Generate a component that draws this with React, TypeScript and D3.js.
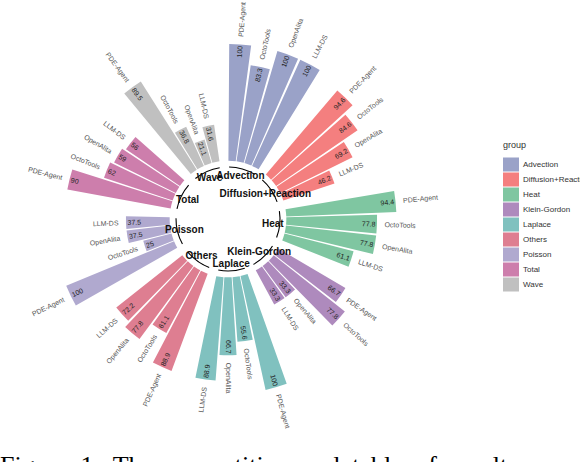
import React from 'react';
import * as d3 from 'd3';

// groups and methods, in clockwise order
const groups = ['Advection', 'Diffusion+Reaction', 'Heat', 'Klein-Gordon', 'Laplace', 'Others', 'Poisson', 'Total', 'Wave'];
const methods = ['PDE-Agent', 'OctoTools', 'OpenAlita', 'LLM-DS'];

// success rate (%) per group, one array per method
const pdeAgent = [100, 94.6, 94.4, 66.7, 100, 88.9, 100, 90, 89.5];
const octoTools = [83.3, 84.6, 77.8, 77.8, 55.6, 61.1, 25, 62, 36.8];
const openAlita = [100, 69.2, 77.8, 33.3, 66.7, 77.8, 37.5, 59, 21.1];
const llmDs = [100, 46.2, 61.1, 33.3, 88.9, 72.2, 37.5, 56, 31.6];

const groupColors = ['#9aa2c8', '#f47f7f', '#7fc6a1', '#ae8abd', '#80c1bf', '#de7e91', '#b0a9cf', '#cd7eac', '#c0c0c0'];

const W = 580;
const H = 462;
const cx = 228;
const cy = 219;
const font = '"Liberation Sans", Arial, sans-serif';

const emptyBars = 1;
const slotsPerGroup = methods.length + emptyBars;
const nSlots = groups.length * slotsPerGroup;

interface Bar {
  group: string;
  method: string;
  value: number;
  id: number;
  color: string;
}

const series = [pdeAgent, octoTools, openAlita, llmDs];
const bars: Bar[] = groups.flatMap((g, gi) =>
  methods.map((m, mi) => ({
    group: g,
    method: m,
    value: series[mi][gi],
    id: gi * slotsPerGroup + mi,
    color: groupColors[gi],
  }))
);

// scales
const angle = d3.scaleLinear().domain([0, nSlots]).range([0, 2 * Math.PI]);
const radius = d3.scaleLinear().domain([-50, 100]).range([0, 175]);

const barArc = d3.arc<Bar>()
  .innerRadius(radius(0))
  .outerRadius(d => radius(d.value))
  .startAngle(d => angle(d.id + 0.05))
  .endAngle(d => angle(d.id + 0.95));

// position + rotation of a text along a bar
function radial(id: number, r: number) {
  const a = angle(id + 0.5);
  const deg = (a * 180) / Math.PI;
  const x = r * Math.sin(a);
  const y = -r * Math.cos(a);
  const right = deg <= 180;
  const rot = right ? deg - 90 : deg + 90;
  return { transform: `translate(${x},${y}) rotate(${rot})`, right };
}

function groupArc(gi: number) {
  const p = d3.path();
  const a0 = angle(gi * slotsPerGroup + 0.5 - 0.35) - Math.PI / 2;
  const a1 = angle(gi * slotsPerGroup + methods.length - 0.5 + 0.35) - Math.PI / 2;
  p.arc(0, 0, 52, a0, a1);
  return p.toString();
}

function groupLabelPos(gi: number) {
  const a = angle(gi * slotsPerGroup + methods.length / 2);
  return [45 * Math.sin(a), -45 * Math.cos(a)];
}

const fmt = (v: number) => String(v);

const App = () => {
  return (
    <svg
      width={W}
      height={H}
      style={{ position: 'absolute', left: 0, top: 0, background: '#fff' }}
      fontFamily={font}
    >
      <g transform={`translate(${cx},${cy})`}>
        {bars.map(d => (
          <path key={`b-${d.id}`} d={barArc(d) || ''} fill={d.color} />
        ))}

        {bars.map(d => {
          const t = radial(d.id, radius(d.value) - 1.5);
          return (
            <text
              key={`v-${d.id}`}
              transform={t.transform}
              textAnchor={t.right ? 'end' : 'start'}
              dominantBaseline="central"
              fontSize={7}
              fill="#222"
            >
              {fmt(d.value)}
            </text>
          );
        })}

        {bars.map(d => {
          const t = radial(d.id, radius(d.value) + 7.5);
          return (
            <text
              key={`m-${d.id}`}
              transform={t.transform}
              textAnchor={t.right ? 'start' : 'end'}
              dominantBaseline="central"
              fontSize={7}
              fill="#555"
            >
              {d.method}
            </text>
          );
        })}

        {groups.map((g, gi) => (
          <path key={`a-${g}`} d={groupArc(gi)} fill="none" stroke="#000" strokeWidth={1.1} />
        ))}

        {groups.map((g, gi) => {
          const [x, y] = groupLabelPos(gi);
          return (
            <text
              key={`g-${g}`}
              x={x}
              y={y}
              textAnchor="middle"
              dominantBaseline="central"
              fontSize={10}
              fontWeight="bold"
              fill="#111"
            >
              {g}
            </text>
          );
        })}
      </g>

      {/* legend */}
      <g transform="translate(503,0)">
        <text x={0} y={148} fontSize={9} fill="#333">group</text>
        {groups.map((g, gi) => (
          <g key={`l-${g}`} transform={`translate(0,${157 + gi * 15})`}>
            <rect x={0} y={0.5} width={16} height={14} fill={groupColors[gi]} />
            <text x={20} y={7.5} fontSize={8} fill="#333" dominantBaseline="central">{g}</text>
          </g>
        ))}
      </g>

      <text
        x={0}
        y={474}
        fontFamily='"Liberation Serif", "Times New Roman", serif'
        fontSize={26}
        wordSpacing={6}
        fill="#000"
      >
        Figure 1: The competition and table of results
      </text>
    </svg>
  );
};

export default App;
